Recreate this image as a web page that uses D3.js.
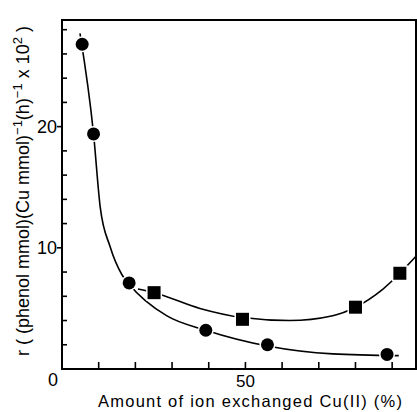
<!DOCTYPE html>
<html>
<head>
<meta charset="utf-8">
<script src="https://cdn.jsdelivr.net/npm/d3@7"></script>
<style>
  body { margin: 0; background: #fff; }
  svg { display: block; font-family: "Liberation Sans", Arial, sans-serif; }
</style>
</head>
<body>
<svg id="chart" width="417" height="412"></svg>
<script>
// measured points: Cu(II) exchanged (%) vs rate
const circleX = [5.5, 8.6, 18.3, 39.2, 56.0, 88.6]
const circleY = [26.8, 19.4, 7.1, 3.2, 2.0, 1.2]
const squareX = [25.1, 49.2, 80.0, 92.1]
const squareY = [6.3, 4.1, 5.1, 7.9]

// hand-drawn trend curves
const circleCurveX = [4.9, 8.6, 10.4, 13.1, 16.3, 18.3, 28.5, 39.2, 56.0, 73.8, 91.8]
const circleCurveY = [27.7, 19.4, 13.4, 10.1, 7.8, 7.0, 4.4, 3.2, 1.9, 1.25, 1.1]
const squareCurveX = [20.7, 25.1, 37.6, 49.2, 62.0, 73.8, 80.0, 87.5, 96.5]
const squareCurveY = [6.6, 6.3, 5.0, 4.25, 4.0, 4.4, 5.1, 6.6, 9.3]

const xTicks = [10, 20, 30, 40, 50, 60, 70, 80, 90]
const xLabels = [0, 50]
const yMinor = [2, 4, 6, 8, 12, 14, 16, 18, 22, 24, 26, 28]
const yMajor = [10, 20]

const svg = d3.select('#chart')
const x = d3.scaleLinear().domain([0, 96.5]).range([62, 416])
const y = d3.scaleLinear().domain([0, 28.8]).range([369, 20])

//curves first so the marker outlines cut small gaps in them
const line = d3.line().x(d=>x(d[0])).y(d=>y(d[1])).curve(d3.curveMonotoneX)
const curves = [d3.zip(circleCurveX, circleCurveY), d3.zip(squareCurveX, squareCurveY)]
svg.selectAll('.curve').data(curves).join('path')
    .attr('class', 'curve')
    .attr('d', line)
    .attr('fill', 'none')
    .attr('stroke', '#000')
    .attr('stroke-width', 1.6)

svg.append('g').selectAll('circle').data(d3.zip(circleX, circleY)).join('circle')
    .attr('cx', d=>x(d[0]))
    .attr('cy', d=>y(d[1]))
    .attr('r', 6.5)
    .attr('fill', '#000')
    .attr('stroke', '#fff')
    .attr('stroke-width', 3)
    .attr('paint-order', 'stroke')

svg.append('g').selectAll('rect').data(d3.zip(squareX, squareY)).join('rect')
    .attr('x', d=>x(d[0]) - 6.5)
    .attr('y', d=>y(d[1]) - 6.5)
    .attr('width', 13)
    .attr('height', 13)
    .attr('fill', '#000')
    .attr('stroke', '#fff')
    .attr('stroke-width', 3)
    .attr('paint-order', 'stroke')

// frame
svg.append('rect')
    .attr('x', x(0)).attr('y', y(28.8))
    .attr('width', x(96.5) - x(0)).attr('height', y(0) - y(28.8))
    .attr('fill', 'none')
    .attr('stroke', '#000')
    .attr('stroke-width', 2)

// x ticks point inward
svg.append('g').selectAll('line').data(xTicks).join('line')
    .attr('x1', d=>x(d)).attr('x2', d=>x(d))
    .attr('y1', y(0)).attr('y2', y(0) - 7)
    .attr('stroke', '#000').attr('stroke-width', 1.6)

svg.append('g').selectAll('line').data(yMinor).join('line')
    .attr('x1', x(0)).attr('x2', x(0) + 5)
    .attr('y1', d=>y(d)).attr('y2', d=>y(d))
    .attr('stroke', '#000').attr('stroke-width', 1.6)

svg.append('g').selectAll('line').data(yMajor).join('line')
    .attr('x1', x(0) - 5).attr('x2', x(0))
    .attr('y1', d=>y(d)).attr('y2', d=>y(d))
    .attr('stroke', '#000').attr('stroke-width', 1.6)

svg.append('g').selectAll('text').data(yMajor).join('text')
    .attr('x', x(0) - 5)
    .attr('y', d=>y(d) + 6.5)
    .attr('text-anchor', 'end')
    .attr('font-size', 18)
    .text(d=>d)

svg.append('text')
    .attr('x', x(0) - 4).attr('y', 386)
    .attr('text-anchor', 'end')
    .attr('font-size', 18)
    .text(xLabels[0])

svg.append('text')
    .attr('x', x(xLabels[1])).attr('y', 387)
    .attr('text-anchor', 'middle')
    .attr('font-size', 17)
    .text(xLabels[1])

svg.append('text')
    .attr('x', 250).attr('y', 407)
    .attr('text-anchor', 'middle')
    .attr('font-size', 16.5)
    .attr('textLength', 304)
    .attr('lengthAdjust', 'spacing')
    .text('Amount of ion exchanged Cu(II) (%)')

const yl = svg.append('text')
    .attr('transform', 'translate(29,191) rotate(-90)')
    .attr('text-anchor', 'middle')
    .attr('font-size', 18)
yl.append('tspan').text('r ( (phenol mmol)(Cu mmol)')
yl.append('tspan').attr('dy', -7).attr('font-size', 13).text('−1')
yl.append('tspan').attr('dy', 7).text('(h)')
yl.append('tspan').attr('dy', -7).attr('font-size', 13).text('−1')
yl.append('tspan').attr('dy', 7).text(' x 10')
yl.append('tspan').attr('dy', -7).attr('font-size', 13).text('2')
yl.append('tspan').attr('dy', 7).text(' )')
</script>
</body>
</html>
